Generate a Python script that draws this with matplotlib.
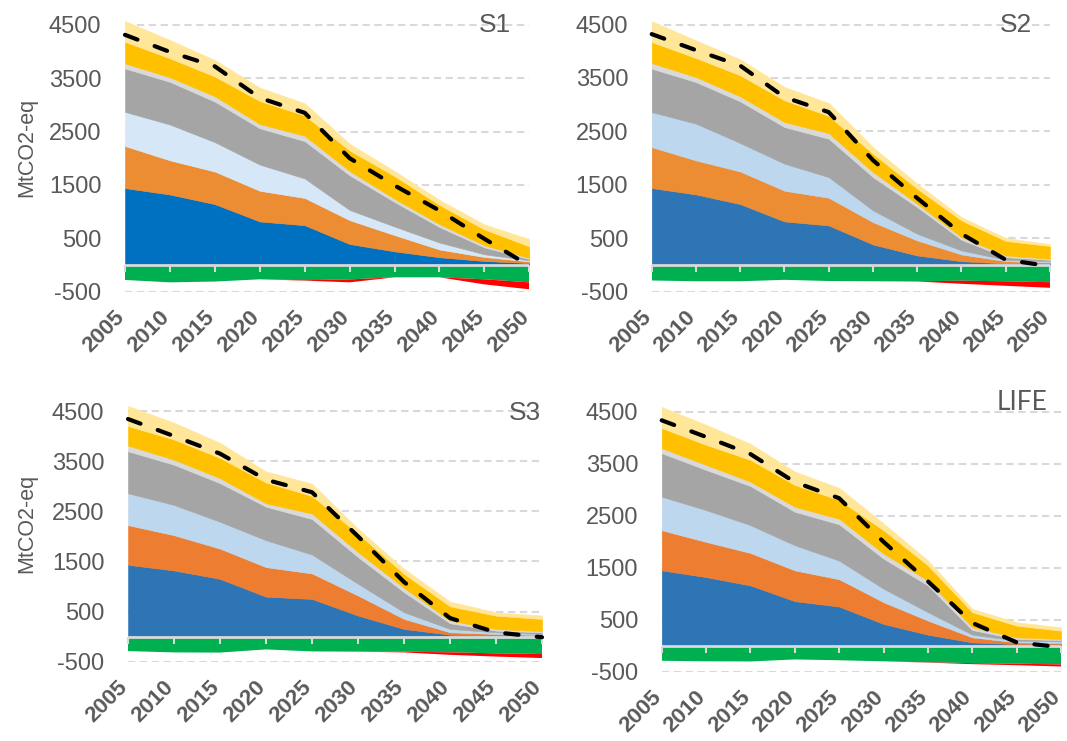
import matplotlib
matplotlib.use("Agg")
import matplotlib.pyplot as plt
from matplotlib.transforms import ScaledTranslation
import numpy as np

# ---------------- data ----------------
years = [2005, 2010, 2015, 2020, 2025, 2030, 2035, 2040, 2045, 2050]
year_labels = [str(y) for y in years]
ytick_values = [-500, 500, 1500, 2500, 3500, 4500]
ytick_labels = ["-500", "500", "1500", "2500", "3500", "4500"]
panel_titles = ["S1", "S2", "S3", "LIFE"]
ylabel_text = "MtCO2-eq"

# S1 (MtCO2-eq per stacked layer, bottom to top)
s1_blue = [1440, 1320, 1140, 815, 745, 393, 255, 145, 75, 37]
s1_orange = [788, 640, 610, 575, 510, 447, 305, 145, 75, 31]
s1_lightblue = [640, 670, 550, 490, 365, 190, 160, 130, 50, 19]
s1_gray = [812, 800, 760, 680, 700, 650, 460, 290, 130, 25]
s1_lightgray = [95, 85, 100, 80, 100, 80, 60, 55, 40, 19]
s1_gold = [405, 355, 370, 430, 380, 385, 425, 360, 295, 219]
s1_paleyellow = [389, 343, 309, 252, 230, 125, 95, 95, 95, 135]
s1_green = [-280, -325, -310, -268, -285, -270, -231, -231, -268, -325]
s1_red = [0, 0, 0, 0, -8, -55, 0, 0, -95, -130]
s1_net = [4310, 3990, 3720, 3130, 2850, 2000, 1490, 1020, 490, -15]

# S2
s2_blue = [1440, 1320, 1140, 815, 740, 384, 178, 71, 30, 30]
s2_orange = [766, 637, 610, 575, 518, 417, 281, 126, 41, 22]
s2_lightblue = [655, 687, 531, 505, 386, 220, 125, 75, 26, 19]
s2_gray = [813, 779, 781, 686, 719, 623, 498, 200, 49, 26]
s2_lightgray = [105, 94, 93, 93, 105, 94, 64, 49, 32, 19]
s2_gold = [393, 356, 394, 407, 322, 344, 281, 312, 272, 239]
s2_paleyellow = [388, 331, 299, 249, 240, 124, 94, 62, 55, 35]
s2_green = [-290, -305, -305, -278, -300, -305, -305, -295, -305, -322]
s2_red = [0, 0, 0, 0, 0, 0, -5, -57, -85, -105]
s2_net = [4320, 4020, 3730, 3140, 2860, 1960, 1250, 584, 97, -22]

# S3
s3_blue = [1433, 1320, 1152, 797, 752, 420, 153, 40, 20, 13]
s3_orange = [791, 703, 603, 589, 508, 400, 200, 47, 33, 20]
s3_lightblue = [636, 603, 536, 536, 377, 233, 134, 66, 34, 20]
s3_gray = [837, 803, 770, 670, 708, 534, 400, 114, 33, 34]
s3_lightgray = [114, 101, 100, 67, 110, 100, 86, 53, 33, 20]
s3_gold = [389, 402, 402, 415, 351, 366, 280, 285, 265, 246]
s3_paleyellow = [400, 335, 302, 221, 244, 100, 100, 95, 67, 67]
s3_green = [-288, -315, -318, -255, -295, -300, -300, -313, -333, -347]
s3_red = [0, 0, 0, 0, 0, 0, -15, -50, -65, -80]
s3_net = [4340, 4000, 3650, 3130, 2880, 2000, 1090, 370, 85, -12]

# LIFE
life_blue = [1451, 1322, 1161, 858, 754, 419, 213, 65, 32, 32]
life_orange = [773, 677, 625, 593, 526, 419, 271, 96, 33, 20]
life_lightblue = [645, 612, 535, 483, 358, 259, 161, 52, 32, 32]
life_gray = [838, 774, 754, 645, 700, 580, 516, 90, 32, 26]
life_lightgray = [97, 97, 84, 97, 106, 96, 96, 52, 32, 19]
life_gold = [387, 386, 419, 419, 361, 451, 290, 290, 226, 161]
life_paleyellow = [406, 387, 310, 258, 235, 130, 97, 65, 65, 65]
life_green = [-290, -300, -303, -264, -280, -300, -320, -335, -345, -360]
life_red = [0, 0, 0, 0, 0, 0, -5, -20, -30, -40]
life_net = [4340, 4020, 3690, 3150, 2840, 2000, 1240, 440, 65, -30]

# ---------------- styling ----------------
TXT = "#595959"
FONT = "Liberation Sans"
GRAY, LGRAY, GOLD, PALE = "#A5A5A5", "#D9D9D9", "#FFC000", "#FFE699"
GREEN, RED = "#00B050", "#FF0000"

W, H = 1067, 741
fig = plt.figure(figsize=(W / 100, H / 100), dpi=100)
fig.patch.set_facecolor("white")

YMAX = 4750

panels = [
    dict(title=panel_titles[0],
         pos=[s1_blue, s1_orange, s1_lightblue, s1_gray, s1_lightgray, s1_gold, s1_paleyellow],
         neg=[s1_green, s1_red], net=s1_net,
         colors=["#0070C0", "#EC8C33", "#D6E8F8", GRAY, LGRAY, GOLD, PALE],
         box=(125, 529.3, 24.7, 291.7), tpos=(511, 24.5), tfont=FONT, tsize=19,
         ylab=(27, 147)),
    dict(title=panel_titles[1],
         pos=[s2_blue, s2_orange, s2_lightblue, s2_gray, s2_lightgray, s2_gold, s2_paleyellow],
         neg=[s2_green, s2_red], net=s2_net,
         colors=["#2E75B6", "#EC8C33", "#BDD7EE", GRAY, LGRAY, GOLD, PALE],
         box=(651.7, 1050, 24.5, 291.7), tpos=(1032, 24.5), tfont=FONT, tsize=19,
         ylab=None),
    dict(title=panel_titles[2],
         pos=[s3_blue, s3_orange, s3_lightblue, s3_gray, s3_lightgray, s3_gold, s3_paleyellow],
         neg=[s3_green, s3_red], net=s3_net,
         colors=["#2E75B6", "#ED7D31", "#BDD7EE", GRAY, LGRAY, GOLD, PALE],
         box=(128, 542, 411, 661.7), tpos=(541, 413), tfont=FONT, tsize=19,
         ylab=(27, 523)),
    dict(title=panel_titles[3],
         pos=[life_blue, life_orange, life_lightblue, life_gray, life_lightgray, life_gold, life_paleyellow],
         neg=[life_green, life_red], net=life_net,
         colors=["#2E75B6", "#ED7D31", "#BDD7EE", GRAY, LGRAY, GOLD, PALE],
         box=(661.7, 1061, 412, 671.7), tpos=(1047, 402), tfont="Lato", tsize=19,
         ylab=None),
]

for p in panels:
    x0, x1, y45, yb = p["box"]
    scale = (yb - y45) / 5000.0
    top_px = yb - (YMAX + 500) * scale
    ax = fig.add_axes([x0 / W, 1 - yb / H, (x1 - x0) / W, (yb - top_px) / H])
    ax.set_xlim(years[0], years[-1])
    ax.set_ylim(-500, YMAX)

    # gridlines
    ax.set_yticks(ytick_values)
    ax.set_yticklabels(ytick_labels, fontsize=17, color=TXT, family=FONT)
    ax.yaxis.grid(True, color=LGRAY, linewidth=1.5, linestyle=(0, (3.5, 2.2)))
    ax.set_axisbelow(True)
    ax.tick_params(axis="y", length=0, pad=17)

    ax.set_xticks(years)
    ax.set_xticklabels(year_labels, fontsize=16, color=TXT, family=FONT,
                       fontweight="bold", rotation=45, ha="right", va="top")
    ax.tick_params(axis="x", length=0, pad=11)
    shift = ScaledTranslation(4 / 100, 0, fig.dpi_scale_trans)
    for lab in ax.get_xticklabels():
        lab.set_transform(lab.get_transform() + shift)

    for s in ax.spines.values():
        s.set_visible(False)

    ax.stackplot(years, *p["pos"], colors=p["colors"], linewidth=0.4,
                 edgecolor="face", zorder=2)
    ax.stackplot(years, *p["neg"], colors=[GREEN, RED], linewidth=0,
                 zorder=2)

    # horizontal axis line at zero with small downward ticks
    ax.axhline(0, color=LGRAY, linewidth=2, zorder=4)
    ax.plot(years, np.zeros(len(years)), linestyle="none", marker=3,
            markersize=5, markeredgewidth=1.5, color=LGRAY, zorder=4,
            clip_on=False)

    # net emissions
    ax.plot(years, p["net"], color="black", linewidth=3,
            dashes=(3.2, 4.4), dash_capstyle="round", zorder=6,
            clip_on=False)

    fig.text(p["tpos"][0] / W, 1 - p["tpos"][1] / H, p["title"],
             ha="right", va="center", fontsize=p["tsize"], color=TXT,
             family=p["tfont"])
    if p["ylab"] is not None:
        fig.text(p["ylab"][0] / W, 1 - p["ylab"][1] / H, ylabel_text,
                 rotation=90, ha="center", va="center", fontsize=15.5,
                 color=TXT, family=FONT)

fig.savefig("out.png", dpi=100, facecolor="white")
